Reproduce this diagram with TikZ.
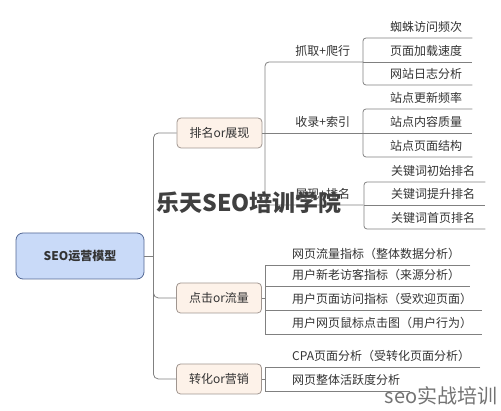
\documentclass[tikz,border=0pt]{standalone}
\usepackage{fontspec}
\setmainfont{Noto Sans CJK SC}
\usetikzlibrary{calc}

\definecolor{rootfill}{RGB}{201,218,248}
\definecolor{rootline}{RGB}{84,104,148}
\definecolor{catfill}{RGB}{253,242,233}
\definecolor{catline}{RGB}{160,150,144}
\definecolor{linkgray}{RGB}{128,128,128}
\definecolor{txtgray}{RGB}{51,51,51}

\tikzset{
  root/.style={draw=rootline, fill=rootfill, rounded corners=7pt, minimum width=128pt, minimum height=46pt, font=\bfseries\fontsize{12}{14}\selectfont, text=txtgray, line width=0.8pt},
  cat/.style={draw=catline, fill=catfill, rounded corners=4pt, minimum width=85pt, minimum height=30pt, font=\fontsize{12}{14}\selectfont, text=txtgray, line width=0.8pt},
  leaf/.style={anchor=south west, inner xsep=0pt, inner ysep=0pt, minimum height=22pt, font=\fontsize{12}{14}\selectfont, text=txtgray, execute at begin node={\hspace*{27pt}}, execute at end node={\hspace*{10pt}}},
  link/.style={draw=linkgray, line width=0.8pt},
}

\begin{document}
\begin{tikzpicture}[x=1pt, y=-1pt]
  \useasboundingbox (0,0) rectangle (501,411);
  \node[root] (root) at (80,256) {SEO运营模型};
  \node[cat] (rank) at (219.5,133) {排名or展现};
  \node[cat] (click) at (219,298) {点击or流量};
  \node[cat] (conv) at (219,379) {转化or营销};
  \draw[link] (root.east) -- ++(9,0) coordinate (hub);
  \draw[link, rounded corners=5pt] (hub) |- (rank.west);
  \draw[link, rounded corners=5pt] (hub) |- (click.west);
  \draw[link, rounded corners=5pt] (hub) |- (conv.west);

  \node[leaf, minimum width=98pt] (c1) at (265,62) {抓取+爬行};
  \node[leaf, minimum width=98pt] (c2) at (265,133) {收录+索引};
  \node[leaf, minimum width=98pt] (c3) at (265,205) {展现+排名};
  \draw[link, rounded corners=4pt] (c1.south east) -- (c1.south west) |- (c3.south east);
  \draw[link] (rank.east) -- (c2.south east);

  \node[leaf] (k1) at (363,38) {蜘蛛访问频次};
  \node[leaf] (k2) at (363,62) {页面加载速度};
  \node[leaf] (k3) at (363,85) {网站日志分析};
  \draw[link, rounded corners=3pt] (k1.south east) -- (k1.south west) |- (k3.south east);
  \draw[link] (k2.south west) -- (k2.south east);

  \node[leaf] (s1) at (363,109) {站点更新频率};
  \node[leaf] (s2) at (363,133) {站点内容质量};
  \node[leaf] (s3) at (363,157) {站点页面结构};
  \draw[link, rounded corners=3pt] (s1.south east) -- (s1.south west) |- (s3.south east);
  \draw[link] (s2.south west) -- (s2.south east);

  \node[leaf] (r1) at (364,182) {关键词初始排名};
  \node[leaf] (r2) at (364,205) {关键词提升排名};
  \node[leaf] (r3) at (364,229) {关键词首页排名};
  \draw[link, rounded corners=3pt] (r1.south east) -- (r1.south west) |- (r3.south east);
  \draw[link] (r2.south west) -- (r2.south east);

  \node[leaf] (p1) at (265,265) {网页流量指标（整体数据分析）};
  \node[leaf] (p2) at (265,286) {用户新老访客指标（来源分析）};
  \node[leaf] (p3) at (265,310) {用户页面访问指标（受欢迎页面）};
  \node[leaf] (p4) at (265,334) {用户网页鼠标点击图（用户行为）};
  \draw[link] (p1.south east) -- (p1.south west) |- (p4.south east);
  \draw[link] (p2.south west) -- (p2.south east);
  \draw[link] (p3.south west) -- (p3.south east);
  \draw[link] (click.east) -- (click.east -| p1.south west);

  \node[leaf] (q1) at (265,367) {CPA页面分析（受转化页面分析）};
  \node[leaf] (q2) at (265,391) {网页整体活跃度分析};
  \draw[link] (q1.south east) -- (q1.south west) |- (q2.south east);
  \draw[link] (conv.east) -- (conv.east -| q1.south west);

  \node[font=\bfseries\fontsize{23}{26}\selectfont, text=black!75] (mark) at (249,203) {乐天SEO培训学院};
  \node[font=\fontsize{20}{22}\selectfont, text=black!55] (sign) at (441,396) {seo实战培训};
\end{tikzpicture}
\end{document}
